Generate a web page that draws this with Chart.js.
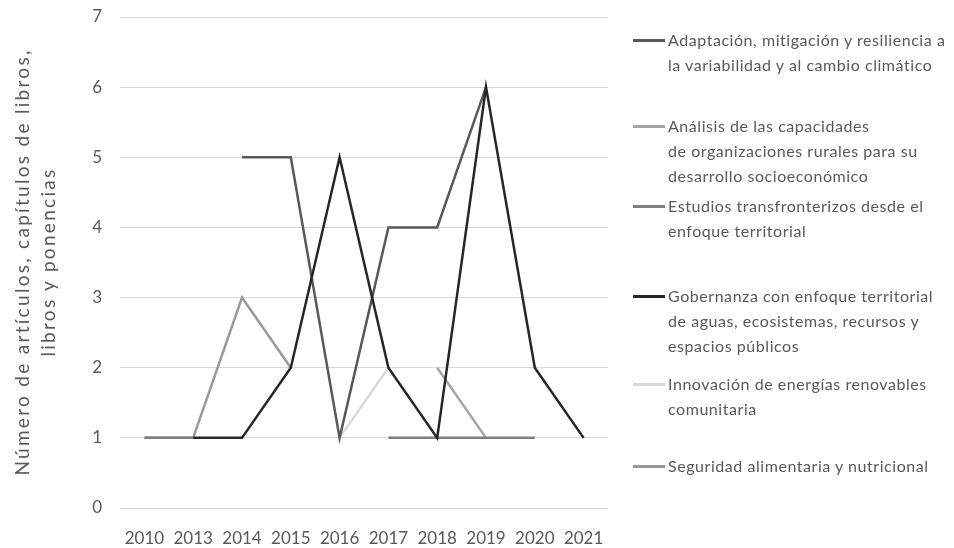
<!DOCTYPE html>
<html>
<head>
<meta charset="utf-8">
<script src="https://cdn.jsdelivr.net/npm/chart.js@4"></script>
<style>
  html, body { margin: 0; padding: 0; background: #fff; }
  #wrap { position: relative; width: 954px; height: 548px; overflow: hidden; }
  #c { position: absolute; left: 0; top: 0; }
  .leg { position: absolute; left: 633px; font-family: Lato, "Open Sans", sans-serif; font-size: 16px; letter-spacing: 0.55px; color: #595959; line-height: 25px; }
  .leg .sw { position: absolute; left: 0; top: 12px; width: 32px; height: 3px; }
  .leg .tx { position: absolute; left: 35px; top: 0; white-space: nowrap; }
  #ytitle { position: absolute; left: 35px; top: 262px; width: 600px; margin-left: -300px; margin-top: -26px;
            transform: rotate(-90deg); text-align: center; font-family: Lato, sans-serif; font-size: 19px;
            letter-spacing: 2.3px; line-height: 26px; color: #595959; white-space: nowrap; }
</style>
</head>
<body>
<div id="wrap">
  <canvas id="c" width="954" height="548"></canvas>
  <div id="ytitle"></div>
  <div id="legend"></div>
</div>
<script>
const categories = ["2010","2013","2014","2015","2016","2017","2018","2019","2020","2021"];
const seriesNames = [
  ["Adaptación, mitigación y resiliencia a","la variabilidad y al cambio climático"],
  ["Análisis de las capacidades","de organizaciones rurales para su","desarrollo socioeconómico"],
  ["Estudios transfronterizos desde el","enfoque territorial"],
  ["Gobernanza con enfoque territorial","de aguas, ecosistemas, recursos y","espacios públicos"],
  ["Innovación de energías renovables","comunitaria"],
  ["Seguridad alimentaria y nutricional"]
];
const adaptacion   = [null, null, 5, 5, 1, 4, 4, 6, null, null];
const analisis     = [null, null, null, null, null, null, 2, 1, null, null];
const estudios     = [1, 1, null, null, null, 1, 1, 1, 1, null];
const gobernanza   = [null, 1, 1, 2, 5, 2, 1, 6, 2, 1];
const innovacion   = [null, null, null, null, 1, 2, null, null, null, null];
const seguridad    = [1, 1, 3, 2, null, null, null, null, null, null];
const seriesColors = ["#595959", "#a5a5a5", "#7f7f7f", "#262626", "#d9d9d9", "#999999"];
const yTicks = [0, 1, 2, 3, 4, 5, 6, 7];
const yTitle = ["Número de artículos, capítulos de libros,", "libros y ponencias"];

const values = [adaptacion, analisis, estudios, gobernanza, innovacion, seguridad];
const drawOrder = [4, 1, 5, 2, 0, 3];
const datasets = values.map((v, i) => ({
  label: seriesNames[i].join(" "),
  data: v,
  borderColor: seriesColors[i],
  backgroundColor: seriesColors[i],
  borderWidth: 2.5,
  pointRadius: 0,
  tension: 0,
  spanGaps: false,
  order: drawOrder.length - drawOrder.indexOf(i)
}));

new Chart(document.getElementById("c"), {
  type: "line",
  data: { labels: categories, datasets },
  options: {
    responsive: false,
    maintainAspectRatio: false,
    animation: false,
    layout: { padding: { top: 17, right: 346, left: 0, bottom: 0 } },
    plugins: { legend: { display: false }, tooltip: { enabled: false } },
    scales: {
      x: {
        offset: true,
        afterFit: (s) => { s.height = 40; s.paddingLeft = 0; s.paddingRight = 0; },
        grid: { display: false, drawTicks: false },
        border: { display: false },
        ticks: { color: "#595959", font: { family: "Lato", size: 17 }, padding: 20, maxRotation: 0, autoSkip: false }
      },
      y: {
        min: 0, max: 7,
        afterBuildTicks: (s) => { s.ticks = yTicks.map(v => ({ value: v })); },
        afterFit: (s) => { s.width = 120; s.paddingTop = 0; s.paddingBottom = 0; },
        grid: { color: "#d9d9d9", lineWidth: 1, drawTicks: false },
        border: { display: false },
        ticks: { color: "#595959", font: { family: "Lato", size: 17 }, padding: 18 }
      }
    }
  }
});

document.getElementById("ytitle").innerHTML = yTitle.join("<br>");

const centers = [39, 125, 205, 295, 383, 465];
const legend = document.getElementById("legend");
seriesNames.forEach((lines, i) => {
  const d = document.createElement("div");
  d.className = "leg";
  d.style.top = (centers[i] - 12.5) + "px";
  const sw = document.createElement("div");
  sw.className = "sw";
  sw.style.background = seriesColors[i];
  const tx = document.createElement("div");
  tx.className = "tx";
  tx.innerHTML = lines.join("<br>");
  d.appendChild(sw); d.appendChild(tx);
  legend.appendChild(d);
});
</script>
</body>
</html>
